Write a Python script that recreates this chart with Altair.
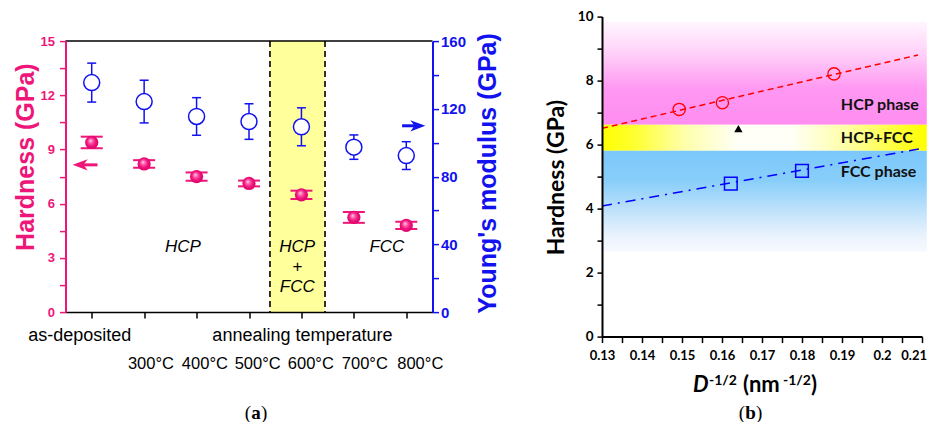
import altair as alt
import pandas as pd

PINK = "#EE1679"
BLUE = "#1212F0"
FA = "Liberation Sans"
FB = "Lato"
FS = "Liberation Serif"

# ---------------- panel (a) data ----------------
positions = [1, 2, 3, 4, 5, 6, 7]
hardness = [9.39, 8.20, 7.50, 7.12, 6.49, 5.24, 4.80]
hardness_err = [0.32, 0.21, 0.23, 0.16, 0.23, 0.30, 0.20]
modulus = [135.5, 124.3, 115.5, 112.5, 109.4, 97.4, 92.4]
modulus_err = [11.5, 12.6, 11.1, 10.5, 11.2, 7.2, 8.2]
label_row1 = ["as-deposited", "", "", "", "annealing temperature", "", ""]
label_row2 = ["", "300°C", "400°C", "500°C", "600°C", "700°C", "800°C"]
band_a = [4.4, 5.45]
phase_text_a = ["HCP", "HCP", "+", "FCC", "FCC"]
phase_x_a = [2.74, 4.92, 4.92, 4.92, 6.63]
phase_y_a = [3.63, 3.63, 2.5, 1.4, 3.63]
hardness_ticks = [0, 1.5, 3, 4.5, 6, 7.5, 9, 10.5, 12, 13.5, 15]
modulus_ticks = [0, 20, 40, 60, 80, 100, 120, 140, 160]
arrow_h = {"x": [0.78], "x2": [1.11], "y": [8.15]}
arrow_m = {"x": [7.22], "x2": [6.92], "y": [110]}

# ---------------- panel (b) data ----------------
hcp_x = [0.1493, 0.1601, 0.1880]
hcp_h = [7.10, 7.31, 8.21]
fcc_x = [0.1622, 0.1800]
fcc_h = [4.78, 5.18]
mix_x = [0.1641]
mix_h = [6.50]
hcp_fit_x = [0.13, 0.209]
hcp_fit_h = [6.51, 8.80]
fcc_fit_x = [0.13, 0.21]
fcc_fit_h = [4.08, 5.88]
band_x = [0.13, 0.2112]
band_hcp = [6.62, 9.84]
band_mix = [5.81, 6.62]
band_fcc = [2.66, 5.81]
phase_text_b = ["HCP phase", "HCP+FCC", "FCC phase"]
phase_x_b = [0.1897, 0.1897, 0.1897]
phase_y_b = [7.24, 6.20, 5.13]
xb_ticks = [0.13, 0.135, 0.14, 0.145, 0.15, 0.155, 0.16, 0.165, 0.17, 0.175,
            0.18, 0.185, 0.19, 0.195, 0.2, 0.205, 0.21]
xb_last_label = ["0.21"]
yb_ticks = [0, 1, 2, 3, 4, 5, 6, 7, 8, 9, 10]

WA, HA = 367, 271
WB, HB = 320, 320
TOP = 8.6

# ================= panel (a) =================
xs_a = alt.Scale(domain=[0.5, 7.5], nice=False, zero=False)
x_axis_a = alt.Axis(values=positions, labels=False, title=None, grid=False,
                    tickSize=6, tickWidth=1.5, tickColor="black",
                    domainColor="black", domainWidth=1.5, zindex=1)
XA = alt.X("x:Q", scale=xs_a, axis=x_axis_a)

ys_h = alt.Scale(domain=[0, 15], nice=False, zero=False)
h_axis = alt.Axis(orient="left", values=hardness_ticks, format="d",
                  labelExpr="datum.value % 3 == 0 ? datum.label : ''",
                  labelColor=PINK, labelFont=FA, labelFontWeight="bold",
                  labelFontSize=13, labelPadding=5, domainColor=PINK,
                  domainWidth=2, tickColor=PINK, tickWidth=1.5, tickSize=6,
                  labelOverlap=False, labelFlush=False,
                  title=None, grid=False, zindex=1)


def YH(f):
    return alt.Y(f, type="quantitative", scale=ys_h, axis=h_axis)


ys_m = alt.Scale(domain=[0, 160], nice=False, zero=False)
m_axis = alt.Axis(orient="right", values=modulus_ticks, format="d",
                  labelExpr="datum.value % 40 == 0 ? datum.label : ''",
                  labelColor=BLUE, labelFont=FA, labelFontWeight="bold",
                  labelFontSize=15, labelPadding=2, domainColor=BLUE,
                  domainWidth=2, tickColor=BLUE, tickWidth=1.5, tickSize=6,
                  labelOverlap=False, labelFlush=False,
                  title=None, grid=False, zindex=1)


def YM(f):
    return alt.Y(f, type="quantitative", scale=ys_m, axis=m_axis)


df_h = pd.DataFrame({"x": positions, "h": hardness,
                     "lo": [v - e for v, e in zip(hardness, hardness_err)],
                     "hi": [v + e for v, e in zip(hardness, hardness_err)]})
df_m = pd.DataFrame({"x": positions, "m": modulus,
                     "lo": [v - e for v, e in zip(modulus, modulus_err)],
                     "hi": [v + e for v, e in zip(modulus, modulus_err)]})

band = alt.Chart(pd.DataFrame({"x": [band_a[0]], "x2": [band_a[1]]})).mark_rect(
    color="#FFFF9C").encode(x=XA, x2="x2:Q", y=alt.value(0), y2=alt.value(HA))
dashes = alt.Chart(pd.DataFrame({"x": band_a})).mark_rule(
    color="black", strokeDash=[6, 4], strokeWidth=1.6).encode(
    x=XA, y=alt.value(0), y2=alt.value(HA))
top_border = alt.Chart(pd.DataFrame({"x": [1]})).mark_rule(
    color="black", strokeWidth=1.5).encode(x=alt.value(0), x2=alt.value(WA), y=alt.value(0))

h_err = alt.Chart(df_h).mark_rule(color=PINK, strokeWidth=1.5).encode(
    x=XA, y=YH("lo"), y2="hi:Q")
h_cap_lo = alt.Chart(df_h).mark_tick(orient="horizontal", size=22, thickness=2,
                                     color=PINK, opacity=1).encode(x=XA, y=YH("lo"))
h_cap_hi = alt.Chart(df_h).mark_tick(orient="horizontal", size=22, thickness=2,
                                     color=PINK, opacity=1).encode(x=XA, y=YH("hi"))
sphere = alt.RadialGradient(
    gradient="radial", x1=0.4, y1=0.35, r1=0.0, x2=0.5, y2=0.5, r2=0.55,
    stops=[alt.GradientStop(color="#FFE6F2", offset=0),
           alt.GradientStop(color="#FF6AB2", offset=0.25),
           alt.GradientStop(color="#F0137C", offset=0.6),
           alt.GradientStop(color="#D80068", offset=1)])
h_pts = alt.Chart(df_h).mark_circle(size=175, opacity=1, fill=sphere, filled=True).encode(
    x=XA, y=YH("h"))

LEFT_ARROW = "M-1,0L1,-0.75L0.45,0L1,0.75Z"
RIGHT_ARROW = "M1,0L-1,-0.75L-0.45,0L-1,0.75Z"
h_shaft = alt.Chart(pd.DataFrame(arrow_h)).mark_rule(color=PINK, strokeWidth=3).encode(
    x=XA, x2="x2:Q", y=YH("y"))
h_head = alt.Chart(pd.DataFrame(arrow_h)).mark_point(
    shape=LEFT_ARROW, filled=True, color=PINK, size=225, opacity=1).encode(x=XA, y=YH("y"))

phase_a = alt.Chart(pd.DataFrame({"x": phase_x_a, "y": phase_y_a, "t": phase_text_a})).mark_text(
    font=FA, fontStyle="italic", fontSize=17, color="black").encode(
    x=XA, y=YH("y"), text="t:N")

df_r1 = pd.DataFrame({"x": positions, "t": label_row1})
df_r2 = pd.DataFrame({"x": positions, "t": label_row2})
lab1a = alt.Chart(df_r1).transform_filter(alt.datum.t == "as-deposited").mark_text(
    font=FA, fontSize=18, color="black", dx=-12, baseline="middle").encode(
    x=XA, y=alt.value(HA + 24), text="t:N")
lab1b = alt.Chart(df_r1).transform_filter(alt.datum.t == "annealing temperature").mark_text(
    font=FA, fontSize=18, color="black", dx=1, baseline="middle").encode(
    x=XA, y=alt.value(HA + 24), text="t:N")
row2_dx = [0, 6.8, 8.3, 8.7, 9.4, 11, 14]
lab2 = [alt.Chart(df_r2).transform_filter(alt.datum.t == t).mark_text(
    font=FA, fontSize=16.5, color="black", dx=d, baseline="middle").encode(
    x=XA, y=alt.value(HA + 51.6), text="t:N")
    for t, d in zip(label_row2, row2_dx) if t]

title_h = alt.Chart(pd.DataFrame({"t": ["Hardness (GPa)"]})).mark_text(
    angle=270, font=FA, fontWeight="bold", fontSize=25, color=PINK,
    baseline="middle", align="center").encode(
    x=alt.value(-39.7), y=alt.value(116), text="t:N")
title_m = alt.Chart(pd.DataFrame({"t": ["Young's modulus (GPa)"]})).mark_text(
    angle=270, font=FA, fontWeight="bold", fontSize=25, color=BLUE,
    baseline="middle", align="center").encode(
    x=alt.value(422.5), y=alt.value(132.3), text="t:N")


def spart(txt, x, y, align, bold):
    return alt.Chart(pd.DataFrame({"t": [txt]})).mark_text(
        font=FS, fontSize=19, fontWeight="bold" if bold else "normal", align=align,
        baseline="alphabetic", color="black").encode(
        x=alt.value(x), y=alt.value(y), text="t:N")


cap_a = [spart("(", 185.5, 378, "right", False), spart("a", 190.5, 378, "center", True),
         spart(")", 195.5, 378, "left", False)]

m_err = alt.Chart(df_m).mark_rule(color=BLUE, strokeWidth=1.5).encode(
    x=XA, y=YM("lo"), y2="hi:Q")
m_cap_lo = alt.Chart(df_m).mark_tick(orient="horizontal", size=9, thickness=1.5,
                                     color=BLUE, opacity=1).encode(x=XA, y=YM("lo"))
m_cap_hi = alt.Chart(df_m).mark_tick(orient="horizontal", size=9, thickness=1.5,
                                     color=BLUE, opacity=1).encode(x=XA, y=YM("hi"))
m_pts = alt.Chart(df_m).mark_circle(size=256, opacity=1, fill="white", stroke=BLUE,
                                    strokeWidth=1.5).encode(x=XA, y=YM("m"))
m_shaft = alt.Chart(pd.DataFrame(arrow_m)).mark_rule(color=BLUE, strokeWidth=3).encode(
    x=XA, x2="x2:Q", y=YM("y"))
m_head = alt.Chart(pd.DataFrame(arrow_m)).mark_point(
    shape=RIGHT_ARROW, filled=True, color=BLUE, size=225, opacity=1).encode(x=XA, y=YM("y"))

hard_layer = alt.layer(band, dashes, top_border, h_err, h_cap_lo, h_cap_hi, h_pts,
                       h_shaft, h_head, phase_a, lab1a, lab1b, *lab2, title_h, title_m,
                       *cap_a)
mod_layer = alt.layer(m_err, m_cap_lo, m_cap_hi, m_pts, m_shaft, m_head)
panel_a = alt.layer(hard_layer, mod_layer).resolve_scale(y="independent").properties(
    width=WA, height=HA)

# ================= panel (b) =================
xs_b = alt.Scale(domain=[0.13, 0.21], nice=False, zero=False)
x_axis_b = alt.Axis(values=xb_ticks, format="~g",
                    labelExpr="round(datum.value * 1000) % 10 == 0 && datum.value < 0.2095 ? datum.label : ''",
                    labelFont=FB, labelFontWeight="bold", labelFontSize=13,
                    labelColor="black", labelPadding=7, tickSize=6, tickWidth=1.5,
                    tickColor="black", domainColor="black", domainWidth=2,
                    labelFlush=False, labelOverlap=False,
                    title=None, grid=False, zindex=1)
XB = alt.X("x:Q", scale=xs_b, axis=x_axis_b)
ys_b = alt.Scale(domain=[0, 10], nice=False, zero=False)
y_axis_b = alt.Axis(values=yb_ticks, format="d",
                    labelExpr="datum.value % 2 == 0 ? datum.label : ''",
                    labelFont=FB, labelFontWeight="bold", labelFontSize=13.5,
                    labelColor="black", labelPadding=4, tickSize=5, tickWidth=1.5,
                    tickColor="black", domainColor="black", domainWidth=2,
                    labelFlush=False, labelOverlap=False,
                    title=None, grid=False, zindex=1)


def YB(f):
    return alt.Y(f, type="quantitative", scale=ys_b, axis=y_axis_b)


def band_df(r):
    return pd.DataFrame({"x": [band_x[0]], "x2": [band_x[1]], "y": [r[0]], "y2": [r[1]]})


grad_pink = alt.LinearGradient(
    gradient="linear", x1=0, y1=0, x2=0, y2=1,
    stops=[alt.GradientStop(color="#FFF6FE", offset=0),
           alt.GradientStop(color="#FFD2F9", offset=0.3),
           alt.GradientStop(color="#FF98F2", offset=0.65),
           alt.GradientStop(color="#FF8DF0", offset=1)])
grad_yellow = alt.LinearGradient(
    gradient="linear", x1=0, y1=0, x2=1, y2=0,
    stops=[alt.GradientStop(color="#FFFF00", offset=0),
           alt.GradientStop(color="#FFFF30", offset=0.1),
           alt.GradientStop(color="#FFFFA8", offset=0.25),
           alt.GradientStop(color="#FFFFF8", offset=0.42),
           alt.GradientStop(color="#FFFFF8", offset=0.58),
           alt.GradientStop(color="#FFFFA8", offset=0.75),
           alt.GradientStop(color="#FFFF30", offset=0.92),
           alt.GradientStop(color="#FFFF00", offset=1)])
grad_blue = alt.LinearGradient(
    gradient="linear", x1=0, y1=0, x2=0, y2=1,
    stops=[alt.GradientStop(color="#7CC8FB", offset=0),
           alt.GradientStop(color="#88CEFA", offset=0.3),
           alt.GradientStop(color="#C0E2FB", offset=0.6),
           alt.GradientStop(color="#EAF3FD", offset=0.85),
           alt.GradientStop(color="#F6F9FF", offset=1)])

b_pink = alt.Chart(band_df(band_hcp)).mark_rect(fill=grad_pink, opacity=1).encode(
    x=XB, x2="x2:Q", y=YB("y"), y2="y2:Q")
b_yellow = alt.Chart(band_df(band_mix)).mark_rect(fill=grad_yellow, opacity=1).encode(
    x=XB, x2="x2:Q", y=YB("y"), y2="y2:Q")
b_blue = alt.Chart(band_df(band_fcc)).mark_rect(fill=grad_blue, opacity=1).encode(
    x=XB, x2="x2:Q", y=YB("y"), y2="y2:Q")

fit_hcp = alt.Chart(pd.DataFrame({"x": hcp_fit_x, "h": hcp_fit_h})).mark_line(
    color="#FF0000", strokeDash=[6, 4], strokeWidth=1.5).encode(x=XB, y=YB("h"))
fit_fcc = alt.Chart(pd.DataFrame({"x": fcc_fit_x, "h": fcc_fit_h})).mark_line(
    color="#0000FF", strokeDash=[10, 6, 2, 6], strokeWidth=1.5).encode(x=XB, y=YB("h"))
pts_hcp = alt.Chart(pd.DataFrame({"x": hcp_x, "h": hcp_h})).mark_point(
    shape="circle", filled=False, color="#FF0000", size=150, strokeWidth=1.3,
    opacity=1).encode(x=XB, y=YB("h"))
pts_fcc = alt.Chart(pd.DataFrame({"x": fcc_x, "h": fcc_h})).mark_point(
    shape="square", filled=False, color="#0000FF", size=160, strokeWidth=1.5,
    opacity=1).encode(x=XB, y=YB("h"))
pts_mix = alt.Chart(pd.DataFrame({"x": mix_x, "h": mix_h})).mark_point(
    shape="triangle-up", filled=True, color="black", size=70, opacity=1).encode(
    x=XB, y=YB("h"))
phase_b = alt.Chart(pd.DataFrame({"x": phase_x_b, "y": phase_y_b, "t": phase_text_b})).mark_text(
    font=FB, fontWeight="bold", fontSize=16, color="#111111", align="left",
    baseline="middle").encode(x=XB, y=YB("y"), text="t:N")
last_lab = alt.Chart(pd.DataFrame({"x": [xb_ticks[-1]], "t": xb_last_label})).mark_text(
    font=FB, fontWeight="bold", fontSize=13, color="black", align="right",
    baseline="top", dx=5).encode(x=XB, y=alt.value(HB + 13), text="t:N")

title_b = alt.Chart(pd.DataFrame({"t": ["Hardness (GPa)"]})).mark_text(
    angle=270, font=FB, fontWeight="bold", fontSize=23, color="black",
    baseline="middle", align="center").encode(
    x=alt.value(-44.7), y=alt.value(161), text="t:N")


def tpart(txt, x, y, size, style="normal"):
    return alt.Chart(pd.DataFrame({"t": [txt]})).mark_text(
        font=FB, fontWeight="bold", fontStyle=style, fontSize=size, color="black",
        align="left", baseline="alphabetic").encode(
        x=alt.value(x), y=alt.value(y), text="t:N")


xt = [tpart("D", 91, 375.2, 22, "italic"), tpart("-1/2", 107, 368, 14),
      tpart("(nm", 141, 375.2, 22), tpart("-1/2", 181, 368, 14),
      tpart(")", 209, 375.2, 22)]

cap_b = [spart("(", 143, 402.5, "right", False), spart("b", 148.5, 402.5, "center", True),
         spart(")", 154, 402.5, "left", False)]

panel_b = alt.layer(b_pink, b_yellow, b_blue, fit_hcp, fit_fcc, pts_hcp, pts_fcc,
                    pts_mix, phase_b, last_lab, title_b, *xt, *cap_b).properties(
    width=WB, height=HB)

chart = alt.hconcat(
    panel_a, panel_b, spacing=169.5, bounds="flush", center=True,
    autosize=alt.AutoSizeParams(type="none"),
    padding={"left": 57.5, "top": TOP, "right": 862.5, "bottom": 414 - TOP},
    background="white").configure_view(stroke=None)

chart.save("out.html", embed_options={"renderer": "svg", "actions": False})
